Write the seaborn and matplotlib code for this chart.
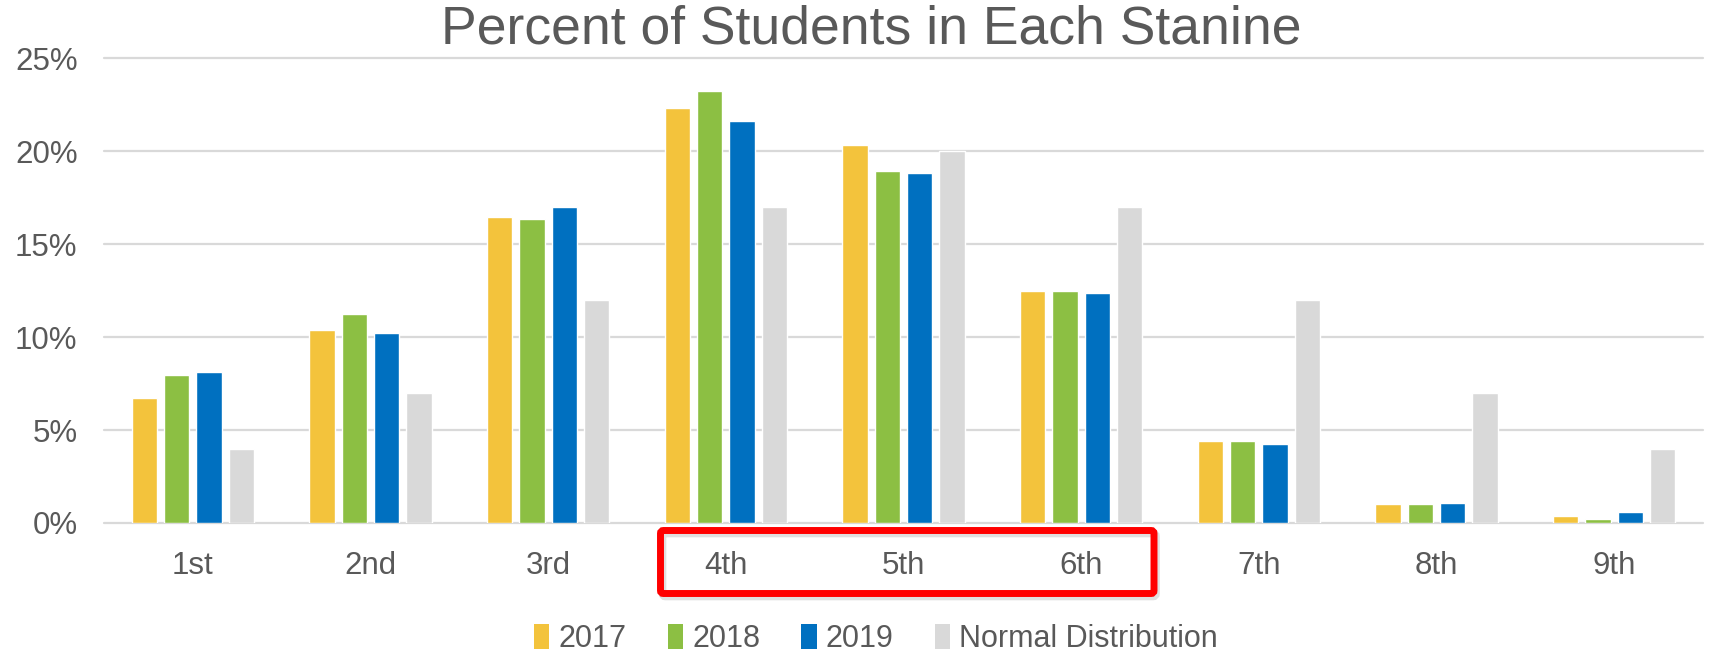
import matplotlib
matplotlib.use("Agg")
import matplotlib.pyplot as plt
from matplotlib.patches import Patch, FancyBboxPatch
import seaborn as sns
import pandas as pd

stanines = ["1st", "2nd", "3rd", "4th", "5th", "6th", "7th", "8th", "9th"]
series_names = ["2017", "2018", "2019", "Normal Distribution"]
pct_2017 = [6.7, 10.4, 16.45, 22.3, 20.3, 12.45, 4.4, 1.0, 0.35]
pct_2018 = [7.95, 11.25, 16.35, 23.2, 18.9, 12.5, 4.4, 1.0, 0.2]
pct_2019 = [8.1, 10.2, 17.0, 21.6, 18.8, 12.35, 4.27, 1.05, 0.6]
pct_normal = [4, 7, 12, 17, 20, 17, 12, 7, 4]
y_ticks = [0, 5, 10, 15, 20, 25]
y_tick_labels = ["0%", "5%", "10%", "15%", "20%", "25%"]
title = "Percent of Students in Each Stanine"

colors = ["#F3C33C", "#8CBF43", "#0070C0", "#D9D9D9"]
text_color = "#595959"

rows = []
for name, vals in zip(series_names, [pct_2017, pct_2018, pct_2019, pct_normal]):
    for s, v in zip(stanines, vals):
        rows.append({"Stanine": s, "Series": name, "Percent": v})
df = pd.DataFrame(rows)

sns.set_theme(style="white")
plt.rcParams["font.family"] = ["Liberation Sans", "DejaVu Sans"]

W, H = 1712, 654
fig = plt.figure(figsize=(W / 100, H / 100), dpi=100)
ax = fig.add_axes([104 / W, 1 - 523 / H, (1703 - 104) / W, (523 - 58) / H])

ax.set_axisbelow(True)
for t in y_ticks:
    ax.axhline(t, color="#D9D9D9", lw=1.6, zorder=0, clip_on=False)

sns.barplot(data=df, x="Stanine", y="Percent", hue="Series", order=stanines,
            hue_order=series_names, palette=colors, width=0.728, gap=0.22,
            saturation=1, legend=False, ax=ax, zorder=2)

ax.set_xlim(-0.5, len(stanines) - 0.5)
ax.set_ylim(0, 25)
ax.set_yticks(y_ticks)
ax.set_yticklabels(y_tick_labels)
ax.set_xlabel("")
ax.set_ylabel("")
for sp in ax.spines.values():
    sp.set_visible(False)
ax.tick_params(axis="both", length=0, labelsize=22.5, labelcolor=text_color)
ax.tick_params(axis="x", pad=20)
ax.tick_params(axis="y", pad=19)
ax.grid(False)

fig.text(871 / W, 1 - 29 / H, title, ha="center", va="center",
         fontsize=38.5, color=text_color)

handles = [Patch(facecolor=c, edgecolor="none") for c in colors]
fig.legend(handles, series_names, loc="center", bbox_to_anchor=(876 / W, 1 - 639 / H),
           ncol=4, frameon=False, fontsize=22, labelcolor=text_color,
           handlelength=0.5, handleheight=0.9, handletextpad=0.3,
           columnspacing=1.35, borderpad=0, borderaxespad=0)

x0, x1, y0, y1 = 660.5, 1154.0, 530.5, 593.5
shadow = FancyBboxPatch((x0 + 2, H - y1 - 3), x1 - x0, y1 - y0,
                        boxstyle="round,pad=0,rounding_size=3",
                        transform=None, fill=False, edgecolor="#000000",
                        alpha=0.12, lw=5.5)
fig.patches.append(shadow)
rect = FancyBboxPatch((x0, H - y1), x1 - x0, y1 - y0,
                      boxstyle="round,pad=0,rounding_size=3",
                      transform=None, fill=False, edgecolor="#FF0000", lw=5)
fig.patches.append(rect)

fig.savefig("out.png", dpi=100)
